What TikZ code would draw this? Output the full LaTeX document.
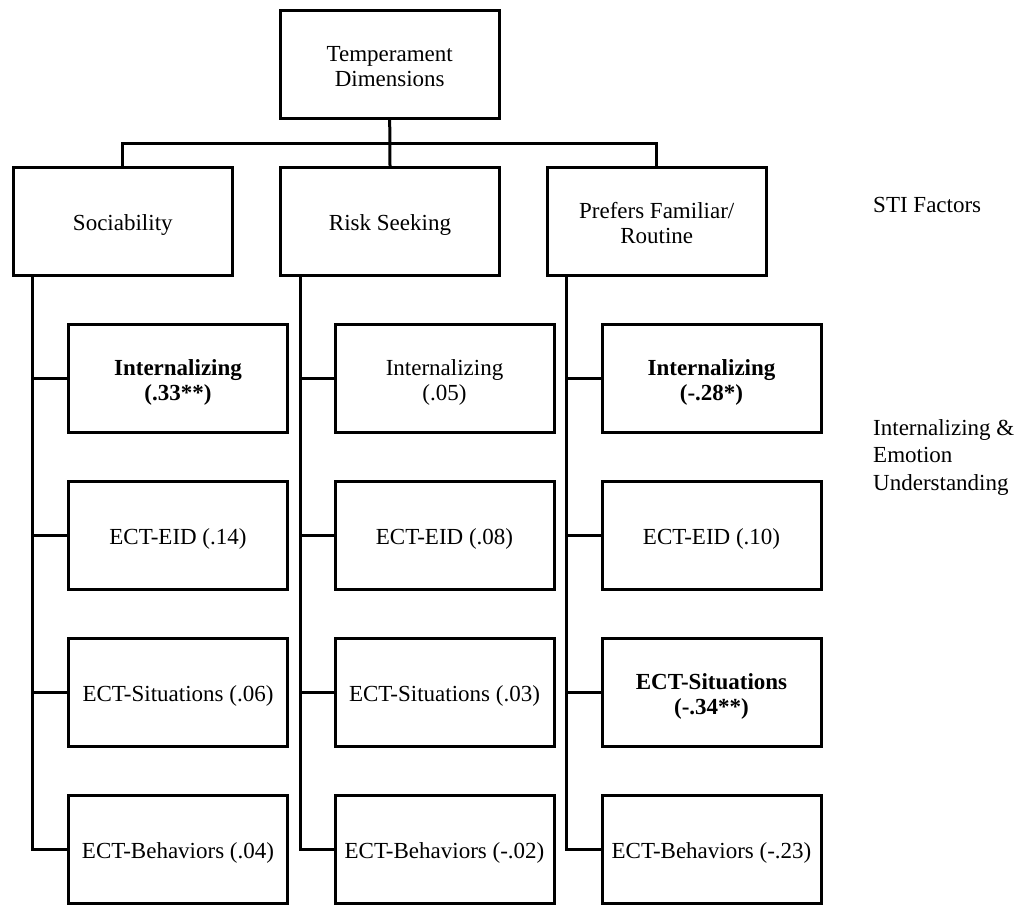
\documentclass[tikz,border=0pt]{standalone}
\usepackage{fontspec}
\setmainfont{Liberation Serif}
% box text: stacked lines, set a little below the box centre
\newcommand\boxtext[1]{\raisebox{-4.5pt}[\height][\depth]{\begin{tabular}{@{}c@{}}#1\end{tabular}}}
\begin{document}
\begin{tikzpicture}[x=1pt,y=-1pt,
  box/.style={draw, line width=3pt, minimum width=219pt, minimum height=108pt,
    inner sep=2pt, font=\fontsize{23}{25}\selectfont},
  strong/.style={box, font=\fontsize{23}{25}\selectfont\bfseries},
  link/.style={line width=3pt},
  side/.style={align=left, anchor=base west, inner sep=0pt,
    font=\fontsize{23}{27.8}\selectfont}]
\useasboundingbox (0,0) rectangle (1024,905);

% root and STI factor boxes
\node[box] (top) at (389.7,64.7) {\boxtext{Temperament\\Dimensions}};
\node[box] (soc) at (122.8,221.3) {\boxtext{Sociability}};
\node[box] (rsk) at (390,221.3) {\boxtext{Risk Seeking}};
\node[box] (pfr) at (656.7,221.3) {\boxtext{Prefers Familiar/\\Routine}};

% outcome boxes, Sociability column
\node[strong] (s1) at (178,378.7) {\boxtext{Internalizing\\(.33**)}};
\node[box] (s2) at (178,535.3) {\boxtext{ECT-EID (.14)}};
\node[box] (s3) at (178,692.2) {\boxtext{ECT-Situations (.06)}};
\node[box] (s4) at (178,849.3) {\boxtext{ECT-Behaviors (.04)}};

% outcome boxes, Risk Seeking column
\node[box] (r1) at (444.5,378.7) {\boxtext{Internalizing\\(.05)}};
\node[box] (r2) at (444.5,535.3) {\boxtext{ECT-EID (.08)}};
\node[box] (r3) at (444.5,692.2) {\boxtext{ECT-Situations (.03)}};
\node[box] (r4) at (444.5,849.3) {\boxtext{ECT-Behaviors (-.02)}};

% outcome boxes, Prefers Familiar/Routine column
\node[strong] (p1) at (711.5,378.7) {\boxtext{Internalizing\\(-.28*)}};
\node[box] (p2) at (711.5,535.3) {\boxtext{ECT-EID (.10)}};
\node[strong] (p3) at (711.5,692.2) {\boxtext{ECT-Situations\\(-.34**)}};
\node[box] (p4) at (711.5,849.3) {\boxtext{ECT-Behaviors (-.23)}};

% level labels (base = baseline of the last line)
\node[side] (sti) at (873,212) {STI Factors};
\node[side] (ieu) at (873,490.7) {Internalizing \&\\Emotion\\Understanding};

% root to factors
\coordinate (bar) at (389.7,143.3);
\draw[link] (top.south) -- (rsk.north);
\draw[link] (soc.north) -- (soc.north |- bar) -- (pfr.north |- bar) -- (pfr.north);

% factors to outcomes
\foreach \f/\c in {soc/s, rsk/r, pfr/p}{
  \foreach \k in {1,2,3,4}{
    \draw[link] ([xshift=21pt]\f.south west) |- (\c\k.west);
  }
}
\end{tikzpicture}
\end{document}
